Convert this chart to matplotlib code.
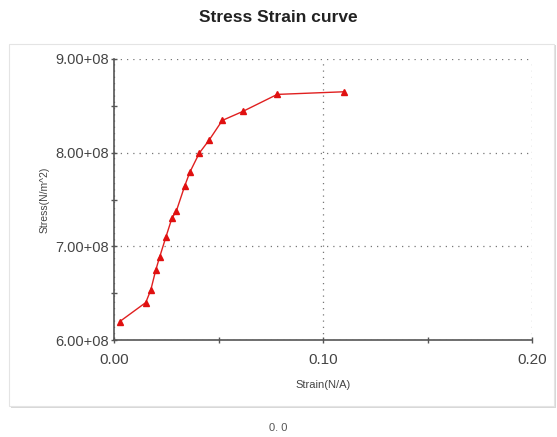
import matplotlib
matplotlib.use('Agg')
import matplotlib.pyplot as plt
from matplotlib.patches import Rectangle
from matplotlib.ticker import MultipleLocator, FuncFormatter


# Figure size in pixels at 100 dpi
WIDTH = 5.57
HEIGHT = 4.37

# Curve values
strain = [0.0027, 0.0152, 0.0176, 0.0200, 0.0218, 0.0248, 0.0277, 0.0298,
          0.0339, 0.0363, 0.0408, 0.0456, 0.0518, 0.0616, 0.0781, 0.1099]
stress = [6.196e8, 6.40e8, 6.534e8, 6.748e8, 6.883e8, 7.097e8, 7.30e8,
          7.375e8, 7.649e8, 7.792e8, 7.995e8, 8.137e8, 8.344e8, 8.44e8,
          8.622e8, 8.65e8]

x_ticks = [0.0, 0.1, 0.2]
y_ticks = [6e8, 7e8, 8e8, 9e8]


def y_label_fmt(value, pos):
    """Format like 9.00+08."""
    exp = 8
    return '{:.2f}+{:02d}'.format(value / 10 ** exp, exp)


def main():
    plt.rcParams['font.family'] = ['Liberation Sans', 'DejaVu Sans']

    fig = plt.figure(figsize=(WIDTH, HEIGHT), dpi=100)
    W, H = 557.0, 437.0

    # Outer frame with a little shadow
    shadow = Rectangle((11 / W, 1 - 408 / H), 545 / W, 363 / H,
                       transform=fig.transFigure, facecolor='#d8d8d8',
                       edgecolor='none', zorder=-2)
    frame = Rectangle((9 / W, 1 - 406 / H), 545 / W, 362 / H,
                      transform=fig.transFigure, facecolor='white',
                      edgecolor='#e4e4e4', linewidth=0.8, zorder=-1)
    fig.patches.extend([shadow, frame])

    ax = fig.add_axes([114 / W, 1 - 340 / H, (532 - 114) / W, (340 - 59) / H])
    ax.set_facecolor('none')

    ax.plot(strain, stress, color='#e02020', linewidth=1.0,
            marker='^', markersize=4.5, markerfacecolor='#e01010',
            markeredgecolor='#e01010', zorder=3, clip_on=False)

    ax.set_xlim(0, 0.2)
    ax.set_ylim(6e8, 9e8)
    ax.set_xticks(x_ticks)
    ax.set_yticks(y_ticks)
    ax.xaxis.set_minor_locator(MultipleLocator(0.05))
    ax.yaxis.set_minor_locator(MultipleLocator(0.5e8))
    ax.xaxis.set_major_formatter(FuncFormatter(lambda v, p: '{:.2f}'.format(v)))
    ax.yaxis.set_major_formatter(FuncFormatter(y_label_fmt))

    ax.grid(True, which='major', linestyle=(0, (1, 4)), color='#777777',
            linewidth=0.9)
    ax.set_axisbelow(True)

    for side in ['top', 'right']:
        ax.spines[side].set_visible(False)
    for side in ['left', 'bottom']:
        ax.spines[side].set_color('#555555')
        ax.spines[side].set_linewidth(1.2)

    ax.tick_params(which='both', direction='inout', color='#555555',
                   length=5, width=1.0)
    ax.tick_params(axis='x', labelsize=11, labelcolor='#444444', pad=7)
    ax.tick_params(axis='y', labelsize=10.5, labelcolor='#444444', pad=1)

    ax.set_xlabel('Strain(N/A)', fontsize=8, color='#444444', labelpad=9)
    ax.set_ylabel('Stress(N/m^2)', fontsize=7.5, color='#444444', labelpad=4)

    fig.text(0.5, 1 - 18 / H, 'Stress Strain curve', ha='center',
             va='center', fontsize=12.5, fontweight='bold', color='#222222')
    fig.text(0.5, 1 - 428 / H, '0. 0', ha='center', va='center',
             fontsize=8, color='#555555')

    fig.savefig('out.png', dpi=100)
    plt.close('all')


if __name__ == '__main__':
    main()
